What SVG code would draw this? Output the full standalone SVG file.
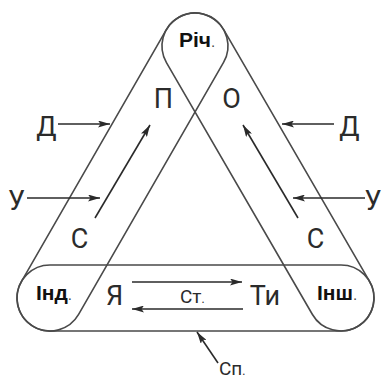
<svg xmlns="http://www.w3.org/2000/svg" width="382" height="379" viewBox="0 0 382 379">
<defs>
<style>
.band{fill:none;stroke:#4a4a4a;stroke-width:1.6}
.arr{fill:none;stroke:#2a2a2a;stroke-width:1.6;marker-end:url(#ah)}
.big{font-family:Roboto,"Liberation Sans",sans-serif;font-size:27px;fill:#2b2b2b;text-anchor:middle}
.sm{font-family:Roboto,"Liberation Sans",sans-serif;font-size:19px;fill:#2b2b2b}
.bold{font-family:"Liberation Sans",Arial,sans-serif;font-size:21px;font-weight:bold;fill:#111}
.dot{font-weight:normal;font-size:15px;fill:#444}
</style>
<marker id="ah" viewBox="0 0 12 7" refX="12" refY="3.5" markerWidth="12" markerHeight="7" markerUnits="userSpaceOnUse" orient="auto">
<path d="M0,0 L12,3.5 L0,7 L2.5,3.5 z" fill="#2a2a2a"/>
</marker>
</defs>
<rect width="382" height="379" fill="#fff"/>
<g id="bands">
<rect id="band-left" class="band" transform="translate(50,298) rotate(-60.09)" x="-33" y="-33" width="356.7" height="66" rx="33"/>
<rect id="band-right" class="band" transform="translate(195,46) rotate(59.91)" x="-33" y="-33" width="357.2" height="66" rx="33"/>
<rect id="band-bottom" class="band" x="17" y="265" width="357" height="66" rx="33"/>
</g>
<g id="connectors">
<line class="arr" x1="58" y1="124" x2="110" y2="124"/>
<line class="arr" x1="27" y1="198" x2="100" y2="198"/>
<line class="arr" x1="95" y1="218" x2="150" y2="125"/>
<line class="arr" x1="334" y1="124" x2="282" y2="124"/>
<line class="arr" x1="365" y1="198" x2="293" y2="198"/>
<line class="arr" x1="298" y1="218" x2="243" y2="125"/>
<line class="arr" x1="132" y1="282" x2="242" y2="282"/>
<line class="arr" x1="243" y1="309" x2="132" y2="309"/>
<line class="arr" x1="218" y1="363" x2="197" y2="332"/>
</g>
<g id="node-rich"><text class="bold" x="179" y="47">Річ<tspan class="dot">.</tspan></text></g>
<g id="node-ind"><text class="bold" x="36" y="300">Інд<tspan class="dot">.</tspan></text></g>
<g id="node-insh"><text class="bold" x="317" y="300">Інш<tspan class="dot">.</tspan></text></g>
<g id="node-p"><text class="big" x="163.5" y="108">П</text></g>
<g id="node-o"><text class="big" x="231.5" y="108">О</text></g>
<g id="node-d-left"><text class="big" x="46.5" y="136">Д</text></g>
<g id="node-d-right"><text class="big" x="349.5" y="136">Д</text></g>
<g id="node-u-left"><text class="big" x="16.5" y="210">У</text></g>
<g id="node-u-right"><text class="big" x="373" y="210">У</text></g>
<g id="node-s-left"><text class="big" x="79.5" y="248">С</text></g>
<g id="node-s-right"><text class="big" x="315.5" y="248">С</text></g>
<g id="node-ya"><text class="big" x="114.5" y="305">Я</text></g>
<g id="node-ty"><text class="big" x="265" y="305">Ти</text></g>
<g id="node-st"><text class="sm" x="180" y="303">Ст<tspan font-size="12">.</tspan></text></g>
<g id="node-sp"><text class="sm" x="219" y="375">Сп<tspan font-size="12">.</tspan></text></g>
</svg>
